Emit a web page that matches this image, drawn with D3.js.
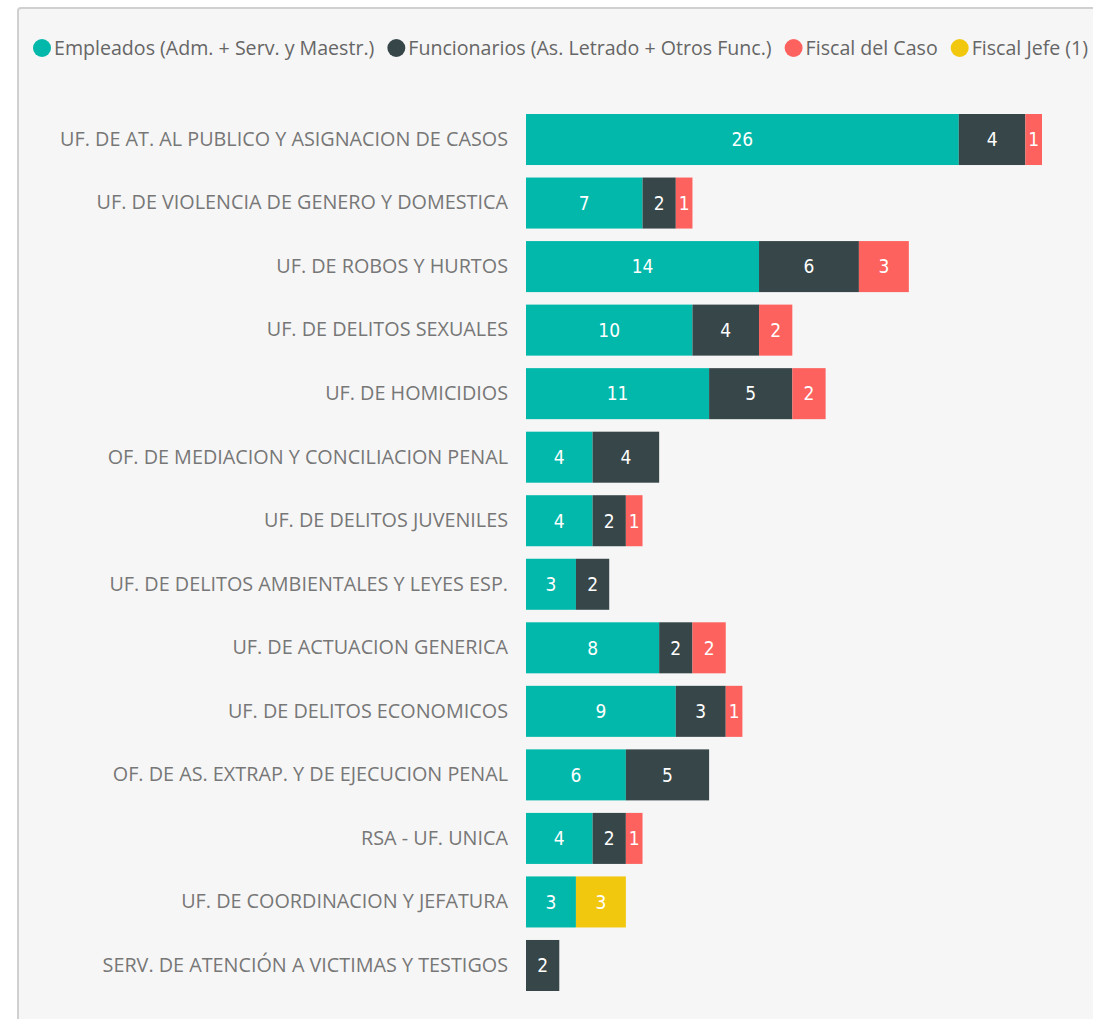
<!DOCTYPE html>
<html><head><meta charset="utf-8">
<script src="https://cdn.jsdelivr.net/npm/d3@7"></script>
<style>
html,body{margin:0;padding:0;background:#fff;}
svg{display:block;}
</style></head>
<body>
<svg id="chart" width="1093" height="1019"></svg>
<script>
const categories = [
  "UF. DE AT. AL PUBLICO Y ASIGNACION DE CASOS",
  "UF. DE VIOLENCIA DE GENERO Y DOMESTICA",
  "UF. DE ROBOS Y HURTOS",
  "UF. DE DELITOS SEXUALES",
  "UF. DE HOMICIDIOS",
  "OF. DE MEDIACION Y CONCILIACION PENAL",
  "UF. DE DELITOS JUVENILES",
  "UF. DE DELITOS AMBIENTALES Y LEYES ESP.",
  "UF. DE ACTUACION GENERICA",
  "UF. DE DELITOS ECONOMICOS",
  "OF. DE AS. EXTRAP. Y DE EJECUCION PENAL",
  "RSA - UF. UNICA",
  "UF. DE COORDINACION Y JEFATURA",
  "SERV. DE ATENCIÓN A VICTIMAS Y TESTIGOS"
];
const seriesNames = [
  "Empleados (Adm. + Serv. y Maestr.)",
  "Funcionarios (As. Letrado + Otros Func.)",
  "Fiscal del Caso",
  "Fiscal Jefe (1)"
];
const empleados    = [26, 7, 14, 10, 11, 4, 4, 3, 8, 9, 6, 4, 3, 0];
const funcionarios = [4, 2, 6, 4, 5, 4, 2, 2, 2, 3, 5, 2, 0, 2];
const fiscalCaso   = [1, 1, 3, 2, 2, 0, 1, 0, 2, 1, 0, 1, 0, 0];
const fiscalJefe   = [0, 0, 0, 0, 0, 0, 0, 0, 0, 0, 0, 0, 3, 0];
const colors = ["#01B8AA", "#374649", "#FD625E", "#F2C80F"];

const keys = ["e","f","c","j"];
const rows = categories.map((c,i)=>({cat:c, e:empleados[i], f:funcionarios[i], c:fiscalCaso[i], j:fiscalJefe[i]}));
const stacked = d3.stack().keys(keys)(rows);

const svg = d3.select("#chart");
// panel
svg.append("rect").attr("x",18).attr("y",8).attr("width",1100).attr("height",1100)
  .attr("fill","#f6f6f6").attr("stroke","#d0d0d0").attr("stroke-width",2).attr("rx",3);

// legend
const legend = svg.append("g").attr("font-family","'Open Sans', 'Noto Sans', sans-serif").attr("font-size",19.6).attr("fill","#666");
let lx = 34;
seriesNames.forEach((n,i)=>{
  legend.append("circle").attr("cx",lx+8).attr("cy",48).attr("r",9).attr("fill",colors[i]);
  const t = legend.append("text").attr("x",lx+20).attr("y",55).text(n);
  const w = t.node().getComputedTextLength();
  lx += 20 + w + 14;
});

const x = d3.scaleLinear().domain([0,31]).range([526,1042]);
const y = d3.scaleBand().domain(categories).range([114,991]).paddingInner(0.197).paddingOuter(0);

// category labels
const yAxis = d3.axisLeft(y).tickSize(0).tickPadding(18);
const ag = svg.append("g").attr("transform","translate(526,0)").call(yAxis);
ag.select(".domain").remove();
ag.selectAll("text").attr("font-family","'Open Sans', 'Noto Sans', sans-serif").attr("font-size",19.8).attr("fill","#777");

const g = svg.append("g");
stacked.forEach((s,si)=>{
  const layer = g.append("g");
  s.forEach((d,i)=>{
    const v = d[1]-d[0];
    if (v<=0) return;
    const x0 = x(d[0]), x1 = x(d[1]);
    layer.append("rect").attr("x",x0).attr("y",y(categories[i])).attr("width",x1-x0).attr("height",y.bandwidth()).attr("fill",colors[si]);
    layer.append("text").attr("x",(x0+x1)/2).attr("y",y(categories[i])+y.bandwidth()/2)
      .attr("dy","0.36em").attr("text-anchor","middle")
      .attr("font-family","'DejaVu Sans Condensed', 'Roboto Condensed', sans-serif")
      .attr("font-size",19).attr("fill","#fff").text(v);
  });
});
</script>
</body></html>
